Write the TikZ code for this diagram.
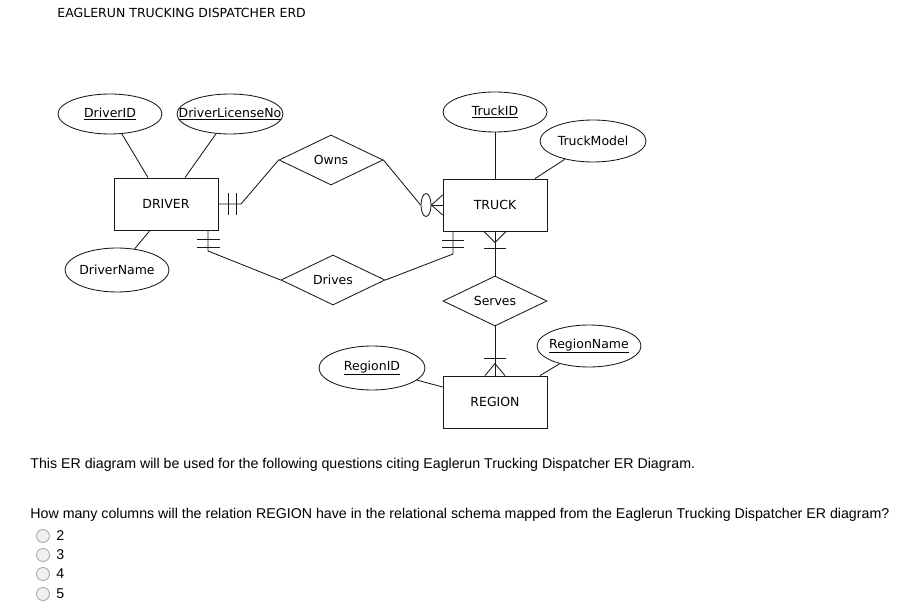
\documentclass[tikz,border=0pt]{standalone}
\usepackage{fontspec}
\setmainfont{DejaVu Sans}
\newfontfamily\qfont{Liberation Sans}
\usetikzlibrary{positioning, shapes.geometric}

\newcommand{\attrtext}[1]{\makebox[0pt]{#1}}

\tikzset{
    attr/.style={draw, ellipse, minimum width=104, minimum height=40, inner sep=0},
    entity/.style={draw, rectangle, minimum width=104, minimum height=52, inner sep=0},
    rel/.style={draw, diamond, aspect=2, minimum width=104, minimum height=50, inner sep=0},
    radio/.style={draw=gray!70, fill=gray!12, circle, minimum size=13, inner sep=0},
    qtext/.style={inner sep=0, font=\qfont\fontsize{14.2}{16}\selectfont},
}

\begin{document}
\begin{tikzpicture}[x=1pt, y=-1pt, font=\fontsize{12.5}{15}\selectfont, line width=0.85pt, draw=black!90]
                \useasboundingbox (0,0) rectangle (905,612);
                \node[anchor=west, inner sep=0] (title) at (57,13) {EAGLERUN TRUCKING DISPATCHER ERD};

                \node[attr] (driverid) at (110,114) {\attrtext{\underline{DriverID}}};
                \node[attr, minimum width=106] (license) at (230,114) {\attrtext{\underline{DriverLicenseNo}}};
                \node[entity] (driver) at (166,204) {DRIVER};
                \node[attr, minimum height=44] (drivername) at (117,270) {\attrtext{DriverName}};
                \node[rel] (owns) at (331,160) {Owns};
                \node[rel] (drives) at (333,280) {Drives};
                \node[attr] (truckid) at (495,112) {\attrtext{\underline{TruckID}}};
                \node[attr, minimum width=106, minimum height=42] (truckmodel) at (593,141) {\attrtext{TruckModel}};
                \node[entity] (truck) at (495,205) {TRUCK};
                \node[rel] (serves) at (495,301) {Serves};
                \node[attr, minimum width=106, minimum height=44] (regionid) at (372,368) {\attrtext{\underline{RegionID}}};
                \node[attr, minimum height=42] (regionname) at (589,346) {\attrtext{\underline{RegionName}}};
                \node[entity] (region) at (495,402) {REGION};

                \draw (driverid) -- ([xshift=-18]driver.north);
                \draw (license) -- ([xshift=19]driver.north);
                \draw (drivername) -- ([xshift=-16]driver.south);
                \draw (truckid) -- (truck);
                \draw (truckmodel) -- ([xshift=40]truck.north);
                \draw (regionid) -- ([yshift=15]region.west);
                \draw ([xshift=45]region.north) -- (regionname);

                \coordinate (dOwns) at (241,204);
                \draw (driver.east) -- (dOwns) -- (owns.west);
                \draw (228,193) -- (228,215);
                \draw (236,193) -- (236,215);
                \node[draw, ellipse, minimum width=10, minimum height=23, inner sep=0] (tOwns) at (426,205) {};
                \draw (owns.east) -- (tOwns.west);
                \draw (tOwns.east) -- (truck.west);
                \draw ([yshift=10]truck.west) -- (tOwns.east) -- ([yshift=-10]truck.west);

                \coordinate (dDrives) at (208,251);
                \draw (driver.south -| dDrives) -- (dDrives) -- (drives.west);
                \draw (197,239) -- (220,239);
                \draw (197,247) -- (220,247);
                \coordinate (tDrives) at (453,254);
                \draw (truck.south -| tDrives) -- (tDrives) -- (drives.east);
                \draw (442,240) -- (464,240);
                \draw (442,247) -- (464,247);

                \draw (truck) -- (serves);
                \draw ([xshift=-11]truck.south) -- ++(11,11) -- ++(11,-11);
                \draw ([xshift=-11]truck.south) ++(0,17) -- ++(22,0);
                \draw (serves) -- (region);
                \draw ([xshift=-10]region.north) -- ++(10,-12) -- ++(10,12);
                \draw ([xshift=-11]region.north) ++(0,-17) -- ++(22,0);

                \node[qtext, anchor=west] (intro) at (30,465) {This ER diagram will be used for the following questions citing Eaglerun Trucking Dispatcher ER Diagram.};
                \node[qtext, anchor=west] (question) at (30,515) {How many columns will the relation REGION have in the relational schema mapped from the Eaglerun Trucking Dispatcher ER diagram?};
                \foreach \y/\v in {536/2, 555/3, 574/4, 594/5} {
                    \node[radio] (opt\v) at (43,\y) {};
                    \node[qtext, right=6pt of opt\v] (lbl\v) {\v};
                }
            \end{tikzpicture}
\end{document}
